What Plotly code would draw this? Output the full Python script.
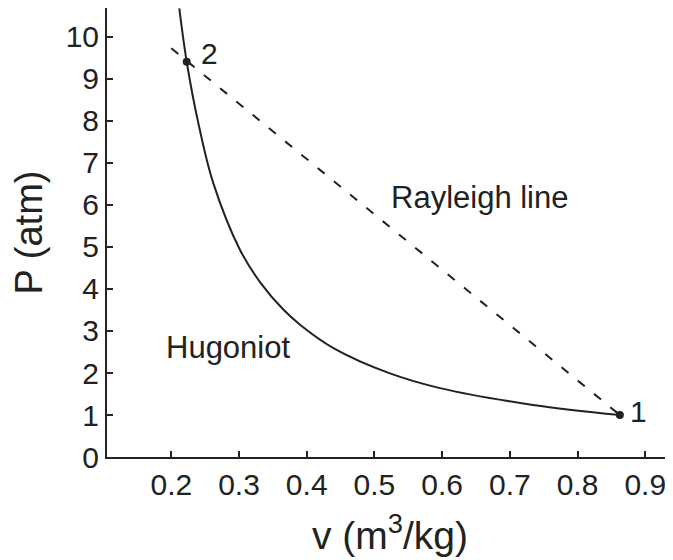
import plotly.graph_objects as go

# Hugoniot curve
hug_v = [0.2118, 0.2227, 0.2399, 0.2620, 0.3015, 0.3321, 0.3654, 0.3901, 0.4388, 0.5230, 0.5969, 0.7343, 0.8625]
hug_P = [10.68, 9.41, 7.95, 6.52, 4.93, 4.14, 3.51, 3.15, 2.60, 1.99, 1.64, 1.24, 1.00]

# Rayleigh line endpoints
ray_v = [0.200, 0.8625]
ray_P = [9.73, 1.00]

# State points
pt_v = [0.8625, 0.2227]
pt_P = [1.00, 9.41]
pt_lbl = ["1", "2"]

# Text labels
txt_v = [0.521, 0.189]
txt_P = [6.17, 2.60]
txt_lbl = ["Rayleigh line", "Hugoniot"]

x_ticks = [0.2, 0.3, 0.4, 0.5, 0.6, 0.7, 0.8, 0.9]
y_ticks = list(range(0, 11))

FONT = "Liberation Sans, Arial, sans-serif"
INK = "#222222"

fig = go.Figure()
fig.add_trace(go.Scatter(x=hug_v, y=hug_P, mode="lines",
                         line=dict(color=INK, width=2, shape="spline", smoothing=1.0),
                         hoverinfo="skip"))
fig.add_trace(go.Scatter(x=ray_v, y=ray_P, mode="lines",
                         line=dict(color=INK, width=2, dash="9px,12px"),
                         hoverinfo="skip"))
fig.add_trace(go.Scatter(x=pt_v, y=pt_P, mode="markers",
                         marker=dict(color=INK, size=8), hoverinfo="skip"))

shifts = {"1": (8, 4), "2": (12, 8)}
for v, p, t in zip(pt_v, pt_P, pt_lbl):
    fig.add_annotation(x=v, y=p, text=t, showarrow=False, xanchor="left",
                       yanchor="middle", xshift=shifts[t][0], yshift=shifts[t][1],
                       font=dict(family=FONT, size=30, color=INK))
for v, p, t in zip(txt_v, txt_P, txt_lbl):
    fig.add_annotation(x=v, y=p, text=t, showarrow=False, xanchor="left",
                       yanchor="middle",
                       font=dict(family=FONT, size=31, color=INK))

# the page body adds an 8px offset, so the figure is sized to fill the rest
fig.update_layout(
    width=665, height=552,
    margin=dict(l=99, r=0, t=0, b=103, autoexpand=False),
    paper_bgcolor="white", plot_bgcolor="white",
    showlegend=False,
    font=dict(family=FONT, color=INK),
    xaxis=dict(range=[0.105, 0.941], tickvals=x_ticks,
               ticktext=[f"{t:.1f}" for t in x_ticks],
               automargin=False,
               showgrid=False, zeroline=False, showline=True,
               linecolor=INK, linewidth=2, ticks="inside", ticklen=6,
               tickwidth=2, tickcolor=INK,
               tickfont=dict(family=FONT, size=30, color=INK),
               title=dict(text="v (m<sup>3</sup>/kg)", standoff=22,
                          font=dict(family=FONT, size=39, color=INK))),
    yaxis=dict(range=[0, 10.69], tickvals=y_ticks,
               automargin=False,
               showgrid=False, zeroline=False, showline=True,
               linecolor=INK, linewidth=2, ticks="inside", ticklen=6,
               tickwidth=2, tickcolor=INK,
               tickfont=dict(family=FONT, size=30, color=INK),
               title=dict(text="P (atm)", standoff=11,
                          font=dict(family=FONT, size=38, color=INK))),
)

fig.write_html("out.html")
